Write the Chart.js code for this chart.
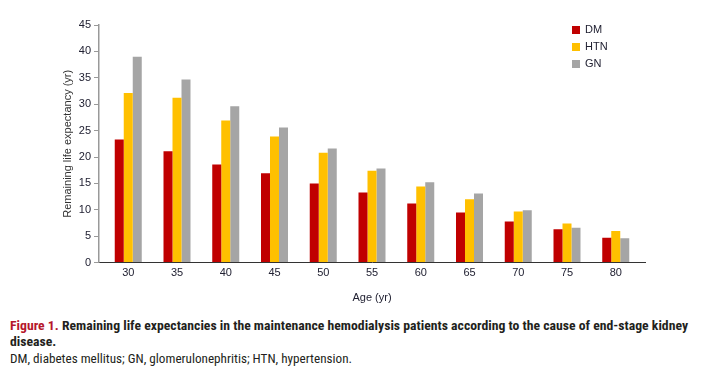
<!DOCTYPE html>
<html>
<head>
<meta charset="utf-8">
<script src="https://cdn.jsdelivr.net/npm/chart.js@4.4.0/dist/chart.umd.min.js"></script>
<style>
body { margin: 0; background: #fff; width: 701px; height: 376px; overflow: hidden; position: relative; }
#grafico { position: absolute; left: 0; top: 0; }
.cap { position: absolute; left: 10px; white-space: nowrap; font-size: 12px; line-height: 14px; color: #231f20; transform-origin: 0 0; font-family: "Liberation Sans Narrow", "Roboto Condensed", "Liberation Sans", sans-serif; }
.cap b { font-weight: bold; }
.rojo { color: #b5172b; }
</style>
</head>
<body>
<canvas id="grafico" width="701" height="312"></canvas>
<div class="cap" id="cap1" style="top:319px"><b><span class="rojo">Figure 1.</span> Remaining life expectancies in the maintenance hemodialysis patients according to the cause of end-stage kidney</b></div>
<div class="cap" id="cap2" style="top:335px"><b>disease.</b></div>
<div class="cap" id="cap3" style="top:352px">DM, diabetes mellitus; GN, glomerulonephritis; HTN, hypertension.</div>
<script>
const edades = [30, 35, 40, 45, 50, 55, 60, 65, 70, 75, 80];
const valoresDM = [23.3, 21.1, 18.6, 16.9, 15.0, 13.3, 11.2, 9.5, 7.8, 6.3, 4.7];
const valoresHTN = [32.1, 31.2, 26.9, 23.9, 20.8, 17.4, 14.4, 12.0, 9.7, 7.4, 6.0];
const valoresGN = [39.0, 34.7, 29.6, 25.6, 21.6, 17.8, 15.2, 13.1, 9.9, 6.6, 4.6];
const series = ["DM", "HTN", "GN"];
const colores = ["#c00000", "#ffc000", "#a5a5a5"];

const fuente = "'Liberation Sans', Arial, sans-serif";
const colorTexto = "#222233";

// leyenda dibujada a mano arriba a la derecha
const leyenda = {
    id: "leyenda",
    afterDraw(chart) {
        const ctx = chart.ctx;
        ctx.save();
        ctx.font = "11px " + fuente;
        ctx.textBaseline = "middle";
        chart.data.datasets.forEach((ds, i) => {
            const y = 30 + i * 17;
            ctx.fillStyle = ds.backgroundColor;
            ctx.fillRect(572, y - 4, 8, 8);
            ctx.fillStyle = colorTexto;
            ctx.fillText(ds.label, 585, y);
        });
        ctx.restore();
    }
};

const ctx = document.getElementById("grafico").getContext("2d");
const grafico = new Chart(ctx, {
    type: "bar",
    data: {
        labels: edades,
        datasets: [
            { label: series[0], data: valoresDM, backgroundColor: colores[0] },
            { label: series[1], data: valoresHTN, backgroundColor: colores[1] },
            { label: series[2], data: valoresGN, backgroundColor: colores[2] }
        ]
    },
    options: {
        responsive: false,
        animation: false,
        layout: { padding: { left: 0, right: 56, top: 25, bottom: 7 } },
        datasets: { bar: { barPercentage: 1, categoryPercentage: 0.554 } },
        plugins: {
            legend: { display: false },
            tooltip: { enabled: false }
        },
        scales: {
            x: {
                type: "linear",
                offset: false,
                min: 27,
                max: 83,
                afterBuildTicks: (s) => { s.ticks = edades.map(v => ({ value: v })); },
                grid: { display: true, drawOnChartArea: false, drawTicks: false },
                border: { color: "#333333", width: 1 },
                ticks: { padding: 4, color: colorTexto, font: { size: 11, family: fuente } },
                title: {
                    display: true,
                    text: "Age (yr)",
                    color: colorTexto,
                    font: { size: 11, family: fuente },
                    padding: { top: 8, bottom: 0 }
                }
            },
            y: {
                min: 0,
                max: 45,
                afterFit: (s) => { s.width = 99; },
                grid: { drawOnChartArea: false, drawTicks: true, tickLength: 5, color: "#999999" },
                border: { color: "#999999", width: 1.5 },
                ticks: { stepSize: 5, padding: 3, color: colorTexto, font: { size: 11, family: fuente } },
                title: {
                    display: true,
                    text: "Remaining life expectancy (yr)",
                    color: "#333333",
                    font: { size: 11, family: fuente },
                    padding: { top: 61, bottom: 0 }
                }
            }
        }
    },
    plugins: [leyenda]
});

// ajustar ancho de las lineas del pie
function ajustar(id, ancho) {
    const el = document.getElementById(id);
    const w = el.getBoundingClientRect().width;
    const f = ancho / w;
    el.style.transform = "scaleX(" + f + ")";
    return f;
}
const f1 = ajustar("cap1", 678);
document.getElementById("cap2").style.transform = "scaleX(" + f1 + ")";
ajustar("cap3", 342);
</script>
</body>
</html>
